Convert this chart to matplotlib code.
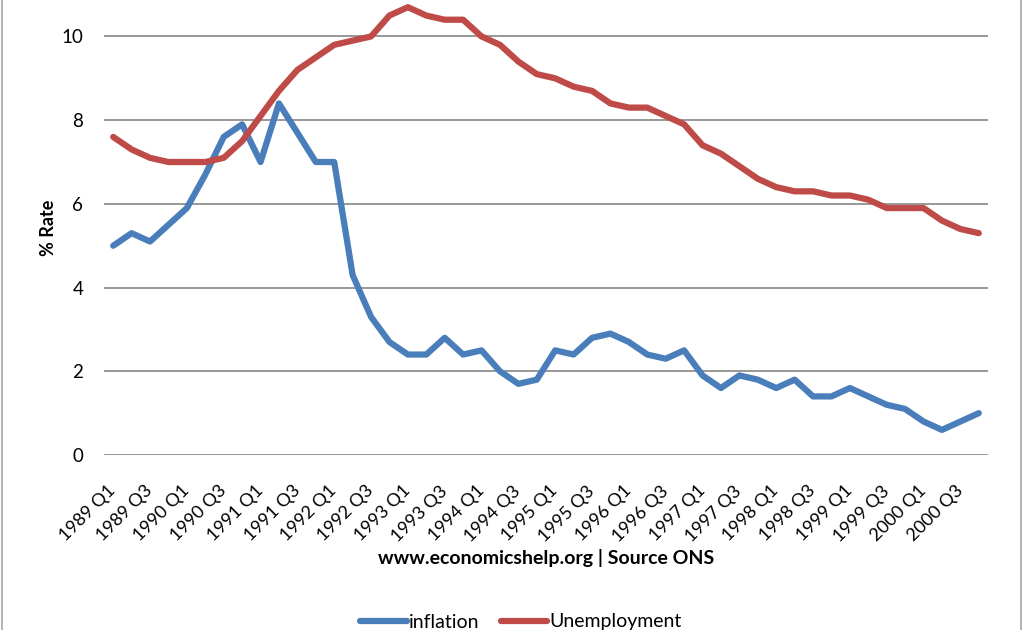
import matplotlib
matplotlib.use("Agg")
import matplotlib.pyplot as plt
from matplotlib.lines import Line2D

plt.rcParams['font.family'] = ['Lato', 'DejaVu Sans']

quarters = [f"{y} Q{q}" for y in range(1989, 2001) for q in range(1, 5)]

inflation = [5.0, 5.3, 5.1, 5.5, 5.9, 6.7, 7.6, 7.9,
             7.0, 8.4, 7.7, 7.0, 7.0, 4.3, 3.3, 2.7,
             2.4, 2.4, 2.8, 2.4, 2.5, 2.0, 1.7, 1.8,
             2.5, 2.4, 2.8, 2.9, 2.7, 2.4, 2.3, 2.5,
             1.9, 1.6, 1.9, 1.8, 1.6, 1.8, 1.4, 1.4,
             1.6, 1.4, 1.2, 1.1, 0.8, 0.6, 0.8, 1.0]

unemployment = [7.6, 7.3, 7.1, 7.0, 7.0, 7.0, 7.1, 7.5,
                8.1, 8.7, 9.2, 9.5, 9.8, 9.9, 10.0, 10.5,
                10.7, 10.5, 10.4, 10.4, 10.0, 9.8, 9.4, 9.1,
                9.0, 8.8, 8.7, 8.4, 8.3, 8.3, 8.1, 7.9,
                7.4, 7.2, 6.9, 6.6, 6.4, 6.3, 6.3, 6.2,
                6.2, 6.1, 5.9, 5.9, 5.9, 5.6, 5.4, 5.3]

blue = '#4a7ebb'
red = '#be4b48'

fig = plt.figure(figsize=(10.34, 6.30), dpi=100)
ax = fig.add_axes([104/1034, 1 - 455/630, 884/1034, 455/630])

x = list(range(len(quarters)))
ax.plot(x, inflation, color=blue, lw=4.5, label='inflation', solid_capstyle='round', solid_joinstyle='round')
ax.plot(x, unemployment, color=red, lw=4.5, label='Unemployment', solid_capstyle='round', solid_joinstyle='round')

ax.set_xlim(-0.5, len(quarters) - 0.5)
ax.set_ylim(0, 10 + 36.5 / 41.9)
ax.set_yticks([0, 2, 4, 6, 8, 10])
ax.yaxis.grid(True, color='#868686', lw=1.2)
ax.set_axisbelow(True)
for s in ax.spines.values():
    s.set_visible(False)

ax.set_xticks(x[::2])
ax.set_xticklabels(quarters[::2], rotation=45, ha='right', va='center',
                   rotation_mode='anchor', fontsize=13)
ax.tick_params(axis='x', length=0, pad=24)
ax.tick_params(axis='y', length=0, pad=15, labelsize=13.5)

ax.set_ylabel('% Rate', fontsize=13, fontweight='bold')
ax.yaxis.set_label_coords(-47/884, 0.5)
ax.set_xlabel('www.economicshelp.org | Source ONS', fontsize=14, fontweight='bold', labelpad=3)

fig.legend(loc='center', bbox_to_anchor=(521/1034, 1 - 622/630), ncol=2, frameon=False,
           fontsize=14, handlelength=2.4, handletextpad=0.1, columnspacing=1.1)

for xx in (2/1034, 1021/1034):
    fig.add_artist(Line2D([xx, xx], [0, 1], transform=fig.transFigure, color='#a6a6a6', lw=1.2))

fig.savefig('out.png', dpi=100)
